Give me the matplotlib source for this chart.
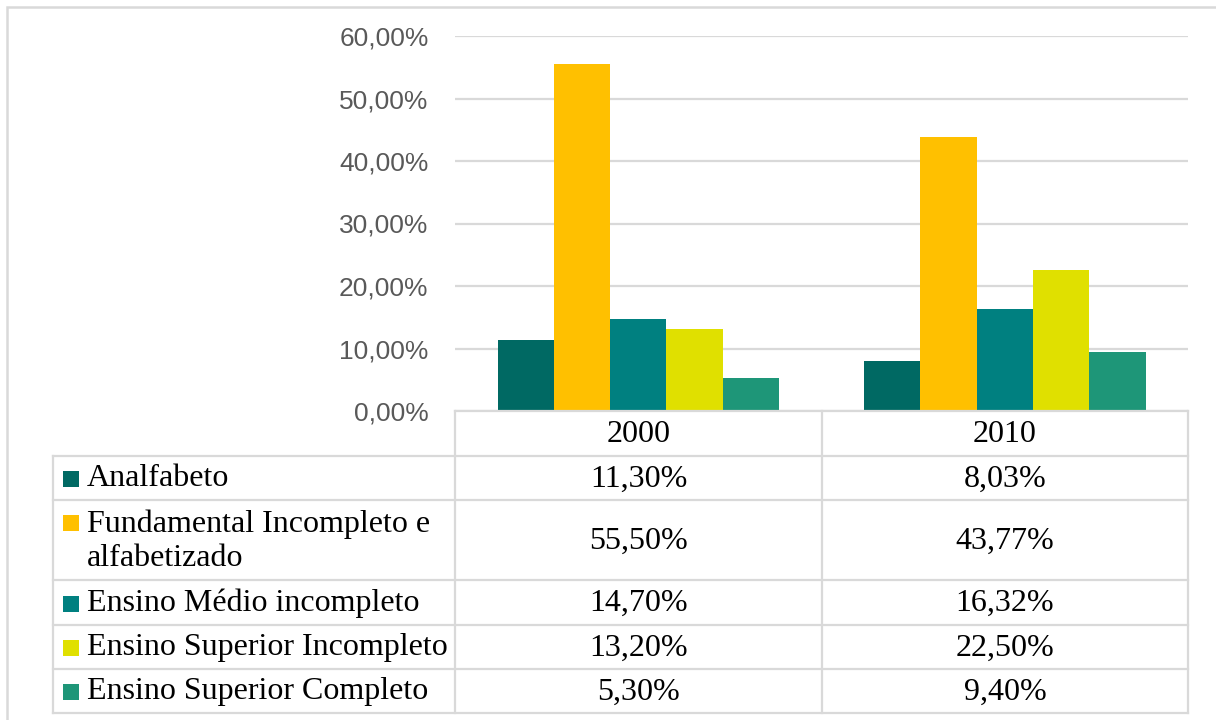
import matplotlib
matplotlib.use('Agg')
import matplotlib.pyplot as plt
from matplotlib.lines import Line2D
from matplotlib.patches import Rectangle

# data
years = ['2000', '2010']
series = ['Analfabeto',
          'Fundamental Incompleto e\nalfabetizado',
          'Ensino Médio incompleto',
          'Ensino Superior Incompleto',
          'Ensino Superior Completo']
values = [[11.30, 8.03],
          [55.50, 43.77],
          [14.70, 16.32],
          [13.20, 22.50],
          [5.30, 9.40]]
colors = ['#006963', '#ffc000', '#008080', '#e0e000', '#1e9678']
yticks = [0, 10, 20, 30, 40, 50, 60]

W, H = 1216, 720
fig = plt.figure(figsize=(W / 100, H / 100), dpi=100)

def fx(x):
    return x / W

def fy(y):
    return 1 - y / H

grid_col = '#d9d9d9'

# plot area
x0, x1, ytop, ybot = 455, 1188, 36, 411
ax = fig.add_axes([fx(x0), fy(ybot), fx(x1 - x0), (ybot - ytop) / H])
bw = 56.3 / (x1 - x0) * 2
for i, (name, vals, c) in enumerate(zip(series, values, colors)):
    xs = [k + (i - 2) * bw for k in range(len(years))]
    ax.bar(xs, vals, width=bw, color=c, linewidth=0, zorder=3)
ax.set_xlim(-0.5, 1.5)
ax.set_ylim(0, 60)
ax.set_yticks(yticks)
ax.set_yticklabels(['%d,00%%' % t for t in yticks], fontfamily='Liberation Sans',
                   fontsize=19, color='#595959')
ax.tick_params(axis='y', length=0, pad=19)
ax.set_xticks([])
ax.grid(axis='y', color=grid_col, linewidth=1.6, zorder=0)
for s in ax.spines.values():
    s.set_visible(False)

# outer frame
fig.add_artist(Rectangle((fx(7), fy(H + 20)), fx(W + 20), (H + 13) / H,
                         transform=fig.transFigure, fill=False,
                         edgecolor=grid_col, linewidth=1.8))

# data table under the bars
rows = [411, 456, 500, 580, 625, 669, 713]
cols = [53, 455, 822, 1188]

def hline(y, xa, xb):
    fig.add_artist(Line2D([fx(xa), fx(xb)], [fy(y), fy(y)], transform=fig.transFigure,
                          color=grid_col, linewidth=1.6))

def vline(x, ya, yb):
    fig.add_artist(Line2D([fx(x), fx(x)], [fy(ya), fy(yb)], transform=fig.transFigure,
                          color=grid_col, linewidth=1.6))

hline(rows[0], cols[1], cols[3])
for y in rows[1:]:
    hline(y, cols[0], cols[3])
vline(cols[0], rows[1], rows[-1])
for x in cols[1:]:
    vline(x, rows[0], rows[-1])

tfont = dict(fontfamily='Liberation Serif', fontsize=23, color='black')
for j, yr in enumerate(years):
    xc = (cols[j + 1] + cols[j + 2]) / 2
    fig.text(fx(xc), fy((rows[0] + rows[1]) / 2 + 1), yr, ha='center', va='center', **tfont)

for i, name in enumerate(series):
    ya, yb = rows[i + 1], rows[i + 2]
    ym = (ya + yb) / 2
    nlines = name.count('\n') + 1
    first = ym - (nlines - 1) * 18
    fig.add_artist(Rectangle((fx(63), fy(first + 9)), fx(16), 16 / H,
                             transform=fig.transFigure, color=colors[i], linewidth=0))
    fig.text(fx(87), fy(ym + 1), name, ha='left', va='center', linespacing=1.24, **tfont)
    for j in range(len(years)):
        xc = (cols[j + 1] + cols[j + 2]) / 2
        fig.text(fx(xc), fy(ym + 1), ('%.2f%%' % values[i][j]).replace('.', ','),
                 ha='center', va='center', **tfont)

fig.savefig('out.png', dpi=100)
